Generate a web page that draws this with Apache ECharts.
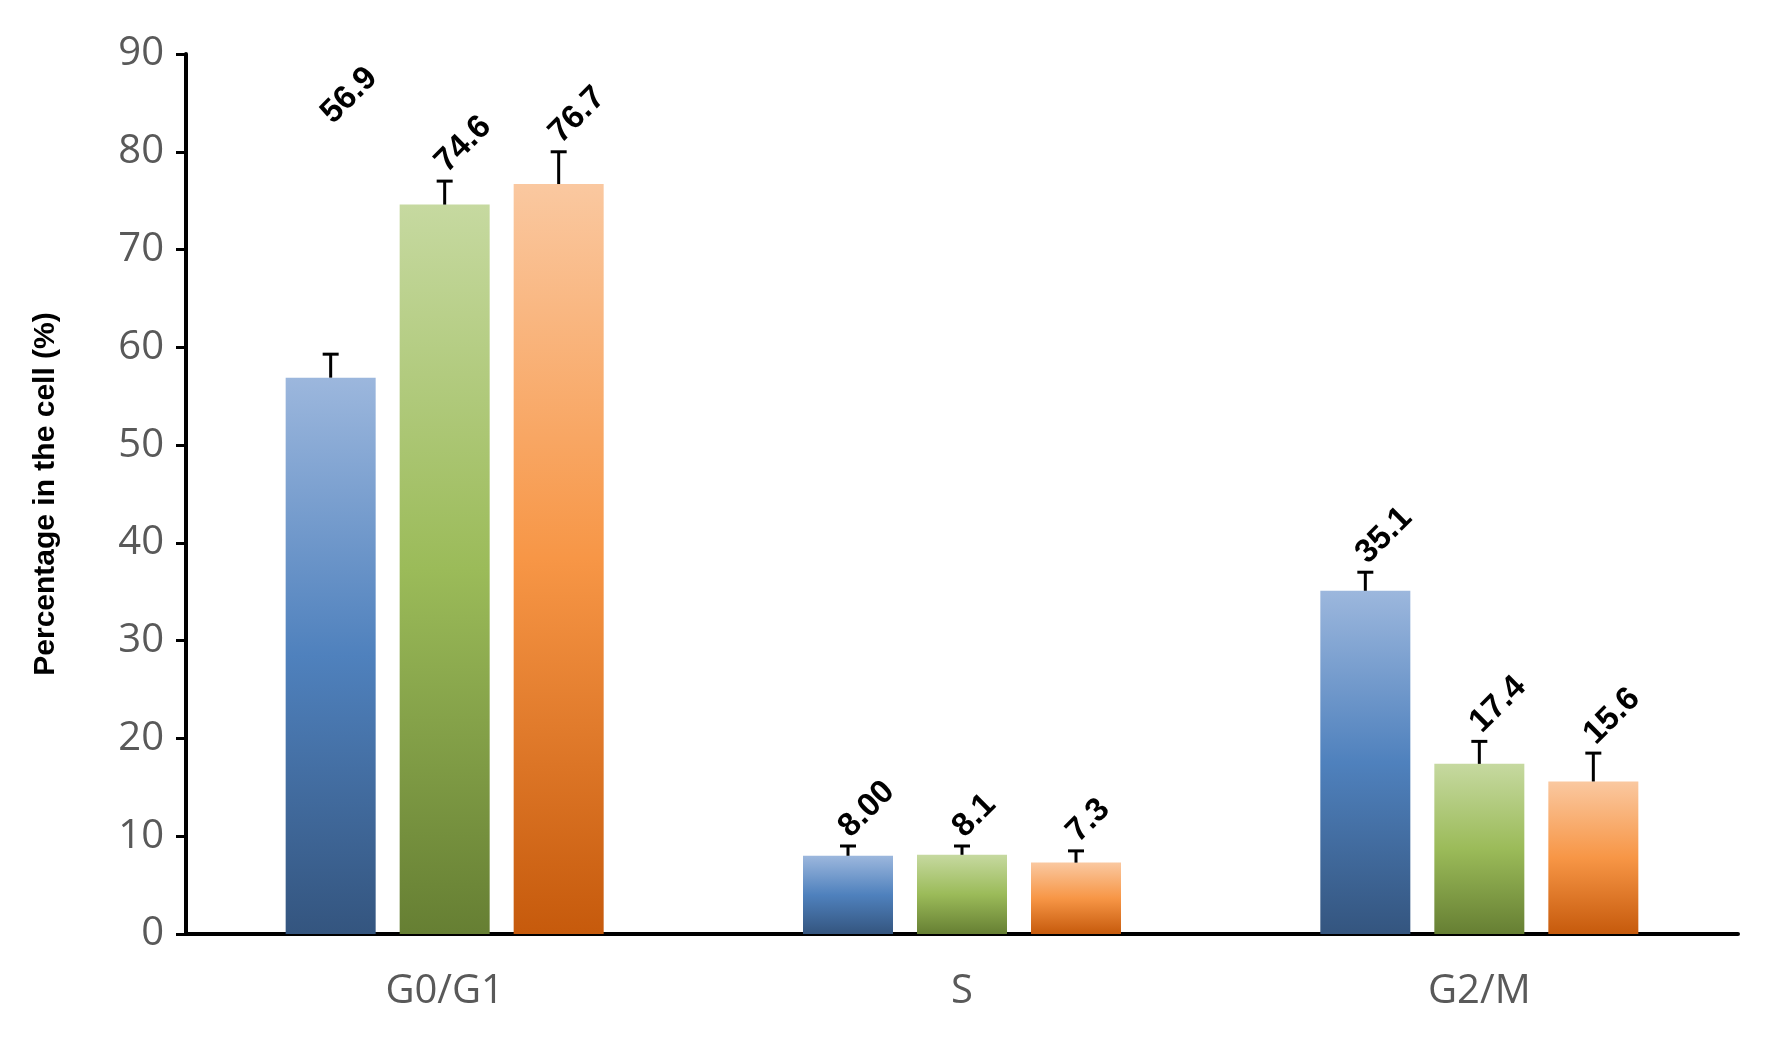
<!DOCTYPE html><html><head><meta charset="utf-8"><script src="https://cdn.jsdelivr.net/npm/echarts@6/dist/echarts.min.js"></script>
<style>html,body{margin:0;background:#fff}#c{width:1768px;height:1054px}</style></head><body><div id="c"></div><script>
const categories=['G0/G1','S','G2/M'];
const ctrl=[56.9,8.0,35.1];
const treatA=[74.6,8.1,17.4];
const treatB=[76.7,7.3,15.6];
const errTopCtrl=[59.3,9.0,37.0];
const errTopA=[77.0,9.0,19.7];
const errTopB=[80.0,8.5,18.5];
const labCtrl=['56.9','8.00','35.1'];
const labA=['74.6','8.1','17.4'];
const labB=['76.7','7.3','15.6'];
const labBaseCtrl=[82,9.0,37.0];
const yTicks=[0,10,20,30,40,50,60,70,80,90];
const chart=echarts.init(document.getElementById('c'));
const BW=90,GAP=24;
function grad(a,b,c){return new echarts.graphic.LinearGradient(0,0,0,1,[{offset:0,color:a},{offset:0.5,color:b},{offset:1,color:c}]);}
const colors=[grad('#9cb7dd','#4f81bd','#34557f'),grad('#c6d9a0','#9bbb59','#667f33'),grad('#fac8a0','#f79646','#c65a0c')];
function errSeries(vals,tops,labs,base,idx){
 return {type:'custom',z:5,data:vals.map((v,i)=>[i,v,tops[i],base[i]]),
 renderItem:(p,api)=>{const i=api.value(0);const b=api.coord([i,api.value(1)]);const t=api.coord([i,api.value(2)]);const l=api.coord([i,api.value(3)]);
  const x=b[0]+(idx-1)*(BW+GAP);
  return {type:'group',children:[
   {type:'line',shape:{x1:x,y1:b[1],x2:x,y2:t[1]},style:{stroke:'#000',lineWidth:3}},
   {type:'line',shape:{x1:x-8,y1:t[1],x2:x+8,y2:t[1]},style:{stroke:'#000',lineWidth:3}},
   {type:'text',x:x-4,y:l[1]-14,rotation:Math.PI/4,style:{text:labs[i],font:'bold 33px Arial, Liberation Sans',fill:'#000',align:'left',verticalAlign:'middle'}}
  ]};}};
}
chart.setOption({
 animation:false,
 grid:{left:186,right:30,top:54,bottom:120},
 xAxis:{type:'category',data:categories,axisLine:{lineStyle:{color:'#000',width:4}},axisTick:{show:false},
  axisLabel:{fontSize:40,color:'#595959',margin:38,fontFamily:'Open Sans'}},
 yAxis:{type:'value',min:0,max:90,interval:10,name:'Percentage in the cell (%)',nameLocation:'middle',nameGap:125,
  nameTextStyle:{fontSize:30,fontWeight:'bold',color:'#000',fontFamily:'Arial, Liberation Sans',letterSpacing:3},
  axisLine:{show:true,lineStyle:{color:'#000',width:4}},axisTick:{show:true,length:10,lineStyle:{color:'#000',width:3}},
  splitLine:{show:false},axisLabel:{fontSize:40,color:'#595959',margin:22,fontFamily:'Open Sans',formatter:v=>yTicks.includes(v)?String(v):''}},
 series:[
  {type:'bar',data:ctrl,barWidth:BW,barGap:(GAP/BW*100)+'%',itemStyle:{color:colors[0]}},
  {type:'bar',data:treatA,barWidth:BW,itemStyle:{color:colors[1]}},
  {type:'bar',data:treatB,barWidth:BW,itemStyle:{color:colors[2]}},
  errSeries(ctrl,errTopCtrl,labCtrl,labBaseCtrl,0),errSeries(treatA,errTopA,labA,errTopA,1),errSeries(treatB,errTopB,labB,errTopB,2)
 ]});
</script></body></html>
